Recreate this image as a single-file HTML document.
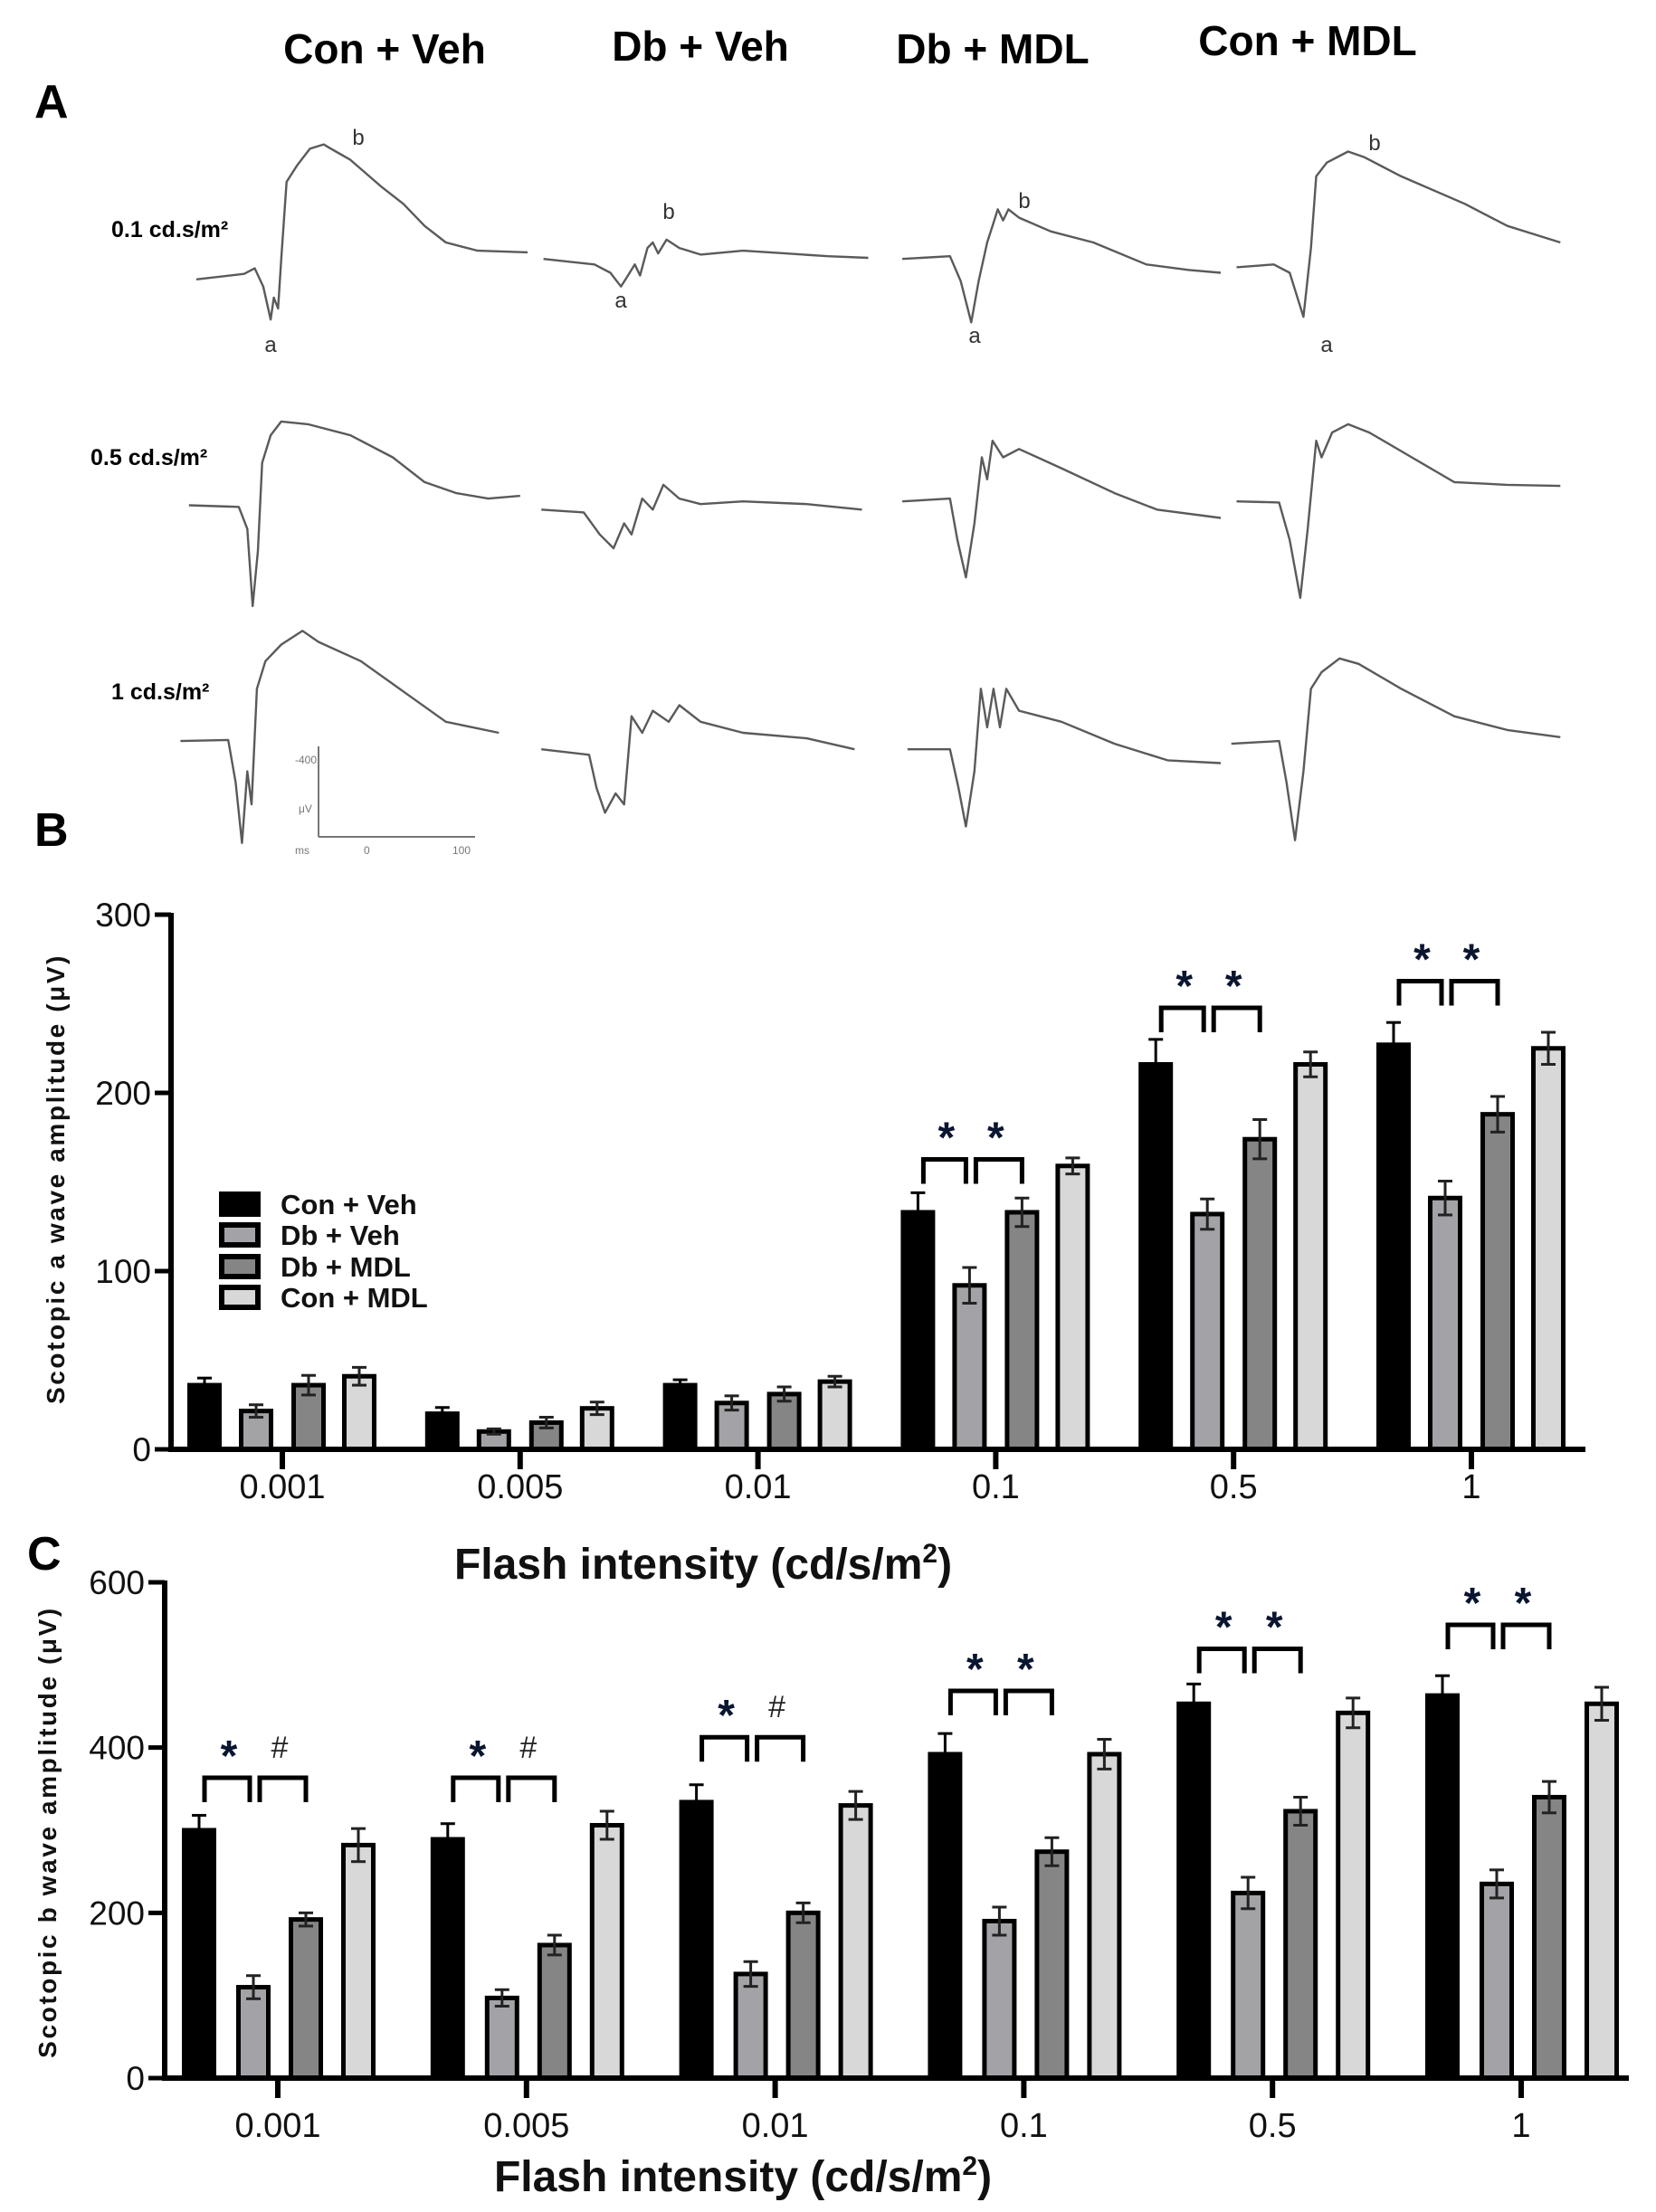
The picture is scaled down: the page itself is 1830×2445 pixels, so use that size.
<!DOCTYPE html>
<html><head><meta charset="utf-8"><style>
html,body{margin:0;padding:0;background:#fff;}
svg{display:block;font-family:"Liberation Sans",Arial,sans-serif;}
</style></head><body>
<svg id="fig" width="1830" height="2445" viewBox="0 0 1830 2445" xmlns="http://www.w3.org/2000/svg">
<rect width="1830" height="2445" fill="#fff"/>
<g id="panelA">
<text x="38" y="130" font-size="52" font-weight="bold">A</text>
<text x="425" y="70" font-size="46" font-weight="bold" text-anchor="middle">Con + Veh</text>
<text x="774" y="67" font-size="46" font-weight="bold" text-anchor="middle">Db + Veh</text>
<text x="1097" y="70" font-size="46" font-weight="bold" text-anchor="middle">Db + MDL</text>
<text x="1445" y="61" font-size="46" font-weight="bold" text-anchor="middle">Con + MDL</text>
<text x="123" y="262" font-size="25" font-weight="bold">0.1 cd.s/m²</text>
<text x="100" y="514" font-size="25" font-weight="bold">0.5 cd.s/m²</text>
<text x="123" y="773" font-size="25" font-weight="bold">1 cd.s/m²</text>
<g font-size="24" fill="#333" text-anchor="middle">
<text x="396" y="160">b</text>
<text x="299" y="389">a</text>
<text x="739" y="242">b</text>
<text x="686" y="340">a</text>
<text x="1132" y="230">b</text>
<text x="1077" y="379">a</text>
<text x="1519" y="166">b</text>
<text x="1466" y="389">a</text>
</g>
<g stroke="#777" stroke-width="2" fill="none">
<line x1="352" y1="825" x2="352" y2="925"/><line x1="352" y1="925" x2="525" y2="925"/>
</g>
<g font-size="12" fill="#777">
<text x="326" y="844">-400</text>
<text x="330" y="898">μV</text>
<text x="326" y="944">ms</text>
<text x="402" y="944">0</text>
<text x="500" y="944">100</text>
</g>
<g id="traces"></g>
</g>
<text x="38" y="935" font-size="52" font-weight="bold">B</text>
<text x="30" y="1735" font-size="52" font-weight="bold">C</text>
<g id="chartB"></g>
<g id="chartC"></g>
</svg>
<script>
const NS='http://www.w3.org/2000/svg';
function mk(tag,attrs,parent){const e=document.createElementNS(NS,tag);for(const k in attrs)e.setAttribute(k,attrs[k]);parent.appendChild(e);return e;}

const categories=['0.001','0.005','0.01','0.1','0.5','1'];
const groups=['Con + Veh','Db + Veh','Db + MDL','Con + MDL'];
const fills=['#000000','#a3a3a7','#858585','#d8d8d8'];

const bConVeh=[36,20,36,133,216,227];
const bDbVeh=[21.5,10,26,92,132,141];
const bDbMDL=[36,15,31,133,174,188];
const bConMDL=[41,23,38,159,216,225];
const bErrConVeh=[4,3.5,3,11,14,12.5];
const bErrDbVeh=[3.5,1.5,4,10,8.5,9.5];
const bErrDbMDL=[5.5,3,4,8,11,10];
const bErrConMDL=[5,3.5,3,4.5,7,9];
const bTicks=[0,100,200,300];
const bSigSyms=[null,null,null,['*','*'],['*','*'],['*','*']];
const bSigLevel=[0,0,0,149,234,249];

const cConVeh=[300,289,334,392,453,463];
const cDbVeh=[110,97,126,190,224,235];
const cDbMDL=[192,161,200,274,323,340];
const cConMDL=[282,306,330,392,442,453];
const cErrConVeh=[18,19,21,25,24,24];
const cErrDbVeh=[14,10,15,17,19,17];
const cErrDbMDL=[8,12,12,17,17,19];
const cErrConMDL=[20,17,17,18,18,20];
const cTicks=[0,200,400,600];
const cSigSyms=[['*','#'],['*','#'],['*','#'],['*','*'],['*','*'],['*','*']];
const cSigLevel=[334,334,383,439,490,519];

function drawChart(g,cfg){
  const {x0,x1,y0,yTop,vmax,cat0,catStep,offs,barW,series,errs,ticks,sym,sigLevel,ytitle,yTitleX,yTitleY,tickLabelY,titleY,titleX}=cfg;
  const ys=v=>y0-(v/vmax)*(y0-yTop);
  const xs=i=>cat0+i*catStep;
  series.forEach((arr,s)=>{
    arr.forEach((v,i)=>{
      const cx=xs(i)+offs[s];
      const bt=ys(v);
      const r=mk('rect',{x:cx-barW/2+2.5,y:bt,width:barW-5,height:y0-bt,fill:fills[s],stroke:'#000','stroke-width':5},g);
      
      
      const e=errs[s][i];
      const et=ys(v+e), eb=ys(Math.max(v-e,0));
      const eg=mk('g',{stroke:s===0?'#000':'#222','stroke-width':3},g);
      
      
      mk('line',{x1:cx,y1:et,x2:cx,y2:eb},eg);
      mk('line',{x1:cx-8,y1:et,x2:cx+8,y2:et},eg);
      mk('line',{x1:cx-8,y1:eb,x2:cx+8,y2:eb},eg);
    });
  });
  const ax=mk('path',{d:`M${x0},${yTop-2} L${x0},${y0} L${x1},${y0}`,fill:'none',stroke:'#000','stroke-width':6},g);
  
  
  ticks.forEach(t=>{
    const y=ys(t);
    mk('line',{x1:x0-18,y1:y,x2:x0,y2:y,stroke:'#000','stroke-width':5},g);
    const tl=mk('text',{x:x0-22,y:y+13,'font-size':37,'text-anchor':'end',fill:'#111'},g);
    tl.textContent=t;
    
    
  });
  categories.forEach((c,i)=>{
    mk('line',{x1:xs(i),y1:y0,x2:xs(i),y2:y0+22,stroke:'#000','stroke-width':6},g);
    const tl=mk('text',{x:xs(i),y:tickLabelY,'font-size':38,'text-anchor':'middle',fill:'#111'},g);
    tl.textContent=c;
    
    
  });
  sym.forEach((pair,i)=>{
    if(!pair)return;
    const yb=ys(sigLevel[i]), yt=yb-27;
    const c0=xs(i)+offs[0]+6, c1=xs(i)+offs[1], c2=xs(i)+offs[2];
    const bg=mk('path',{d:`M${c0},${yb} L${c0},${yt} L${c1-4},${yt} L${c1-4},${yb} M${c1+7},${yb} L${c1+7},${yt} L${c2},${yt} L${c2},${yb}`,fill:'none',stroke:'#000','stroke-width':5},g);
    
    
    [[(c0+c1)/2,pair[0]],[(c1+c2)/2,pair[1]]].forEach(([sx,s])=>{
      const st=mk('text',{x:sx,y:s==='*'?yt-8:yt-22,'font-size':s==='*'?48:34,'font-weight':s==='*'?'bold':'normal','text-anchor':'middle',fill:s==='*'?'#0a1530':'#222'},g);
      st.textContent=s;
      
      
    });
  });
  const tt=mk('text',{x:titleX,y:titleY,'font-size':48,'font-weight':'bold','text-anchor':'middle',fill:'#111'},g);
  tt.innerHTML='Flash intensity (cd/s/m<tspan dy="-18" font-size="30">2</tspan><tspan dy="18">)</tspan>';
  
  
  const yt=mk('text',{x:0,y:0,'font-size':28,'font-weight':'bold','letter-spacing':2.6,'text-anchor':'middle',fill:'#111',transform:`translate(${yTitleX},${yTitleY}) rotate(-90)`},g);
  yt.textContent=ytitle;
  
  
}

drawChart(document.getElementById('chartB'),{x0:189,x1:1752,y0:1602,yTop:1011,vmax:300,cat0:312,catStep:262.8,offs:[-86,-29,29,85],barW:38,
 series:[bConVeh,bDbVeh,bDbMDL,bConMDL],errs:[bErrConVeh,bErrDbVeh,bErrDbMDL,bErrConMDL],ticks:bTicks,sym:bSigSyms,sigLevel:bSigLevel,
 ytitle:'Scotopic a wave amplitude (μV)',yTitleX:71,yTitleY:1303,tickLabelY:1656,titleY:1745,titleX:777});
drawChart(document.getElementById('chartC'),{x0:182,x1:1800,y0:2297,yTop:1749,vmax:600,cat0:307,catStep:274.8,offs:[-87,-27,31,89],barW:38,
 series:[cConVeh,cDbVeh,cDbMDL,cConMDL],errs:[cErrConVeh,cErrDbVeh,cErrDbMDL,cErrConMDL],ticks:cTicks,sym:cSigSyms,sigLevel:cSigLevel,
 ytitle:'Scotopic b wave amplitude (μV)',yTitleX:62,yTitleY:2025,tickLabelY:2362,titleY:2422,titleX:821});

(function(){
  const g=document.getElementById('chartB');
  const lg=mk('g',{},g);
  
  
  const ly=[1318,1352,1387,1421];
  groups.forEach((n,i)=>{
    const e=mk('g',{},lg);
    
    
    mk('rect',{x:245,y:ly[i]+2,width:40,height:22,fill:fills[i],stroke:'#000','stroke-width':6},e);
    const t=mk('text',{x:310,y:ly[i]+24,'font-size':31,'font-weight':'bold',fill:'#111'},e);
    t.textContent=n;
  });
})();

const tracePts=[
[[185,507],[230,497],[240,487],[248,520],[255,580],[258,540],[262,560],[265,470],[270,330],[280,300],[292,270],[305,262],[310,268],[330,290],[360,340],[380,370],[400,410],[420,440],[450,455],[497,458]],
[[512,470],[560,480],[575,495],[585,520],[590,505],[598,480],[603,500],[610,450],[615,440],[620,460],[628,435],[640,450],[660,462],[700,455],[740,460],[780,465],[818,468]],
[[850,470],[895,465],[905,510],[915,585],[922,510],[930,440],[935,410],[940,380],[945,400],[950,380],[960,395],[990,420],[1030,440],[1080,480],[1120,490],[1150,495]],
[[1165,485],[1200,480],[1215,495],[1228,575],[1235,450],[1240,320],[1250,295],[1270,275],[1285,285],[1320,320],[1380,370],[1420,410],[1470,440]],
[[178,917],[225,920],[233,960],[238,1100],[243,1000],[247,840],[255,790],[265,765],[290,770],[330,790],[370,830],[400,875],[430,895],[460,905],[490,900]],
[[510,925],[550,930],[565,970],[578,995],[588,950],[595,970],[605,905],[615,925],[625,880],[640,905],[660,915],[700,910],[760,915],[812,925]],
[[850,910],[895,905],[902,980],[910,1048],[918,950],[925,830],[930,870],[935,800],[945,830],[960,815],[1000,850],[1050,895],[1090,925],[1150,940]],
[[1165,910],[1205,912],[1215,980],[1225,1085],[1232,960],[1240,800],[1245,830],[1255,785],[1270,770],[1290,785],[1330,830],[1370,875],[1420,880],[1470,882]],
[[170,1345],[215,1343],[222,1420],[228,1530],[233,1400],[237,1460],[242,1250],[250,1200],[265,1170],[285,1145],[300,1165],[340,1200],[380,1255],[420,1310],[470,1330]],
[[510,1360],[555,1370],[562,1430],[570,1475],[580,1440],[588,1460],[595,1300],[605,1330],[615,1290],[630,1310],[640,1280],[660,1310],[700,1330],[760,1340],[805,1360]],
[[855,1360],[895,1360],[903,1430],[910,1500],[918,1400],[924,1250],[930,1320],[936,1250],[942,1320],[948,1250],[960,1290],[1000,1310],[1050,1350],[1100,1380],[1150,1385]],
[[1160,1350],[1205,1345],[1212,1420],[1220,1525],[1228,1400],[1235,1250],[1245,1220],[1262,1195],[1280,1205],[1320,1250],[1370,1300],[1420,1325],[1470,1338]]
];
(function(){
  const tg=document.getElementById('traces');
  tracePts.forEach((pts)=>{
    const d=pts.map((p,j)=>(j?'L':'M')+(p[0]*1.173).toFixed(1)+','+(p[1]*0.609).toFixed(1)).join(' ');
    const p=mk('path',{d:d,fill:'none',stroke:'#5a5a5a','stroke-width':2.4,'stroke-linejoin':'round'},tg);
    
    
  });
})();
</script>
</body></html>
